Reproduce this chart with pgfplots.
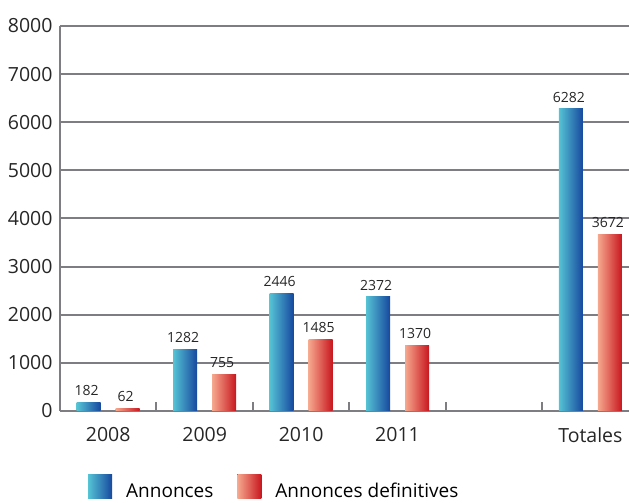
\documentclass[border=0pt]{standalone}
\usepackage{pgfplots}
\pgfplotsset{compat=1.18}
\usepackage{fontspec}
\setmainfont{Open Sans}
\definecolor{bluL}{RGB}{85,195,212}
\definecolor{bluR}{RGB}{22,72,158}
\definecolor{redL}{RGB}{246,168,142}
\definecolor{redR}{RGB}{200,22,30}
\definecolor{gridc}{RGB}{125,125,130}
\begin{document}
\begin{tikzpicture}[x=1pt,y=1pt]
\path[use as bounding box] (0,0) rectangle (629,503);
\begin{axis}[
  at={(60pt,92pt)}, anchor=south west,
  scale only axis, width=569pt, height=385pt,
  xmin=-0.5, xmax=5.4, ymin=0, ymax=8000,
  axis lines*=left,
  axis line style={draw=gridc, line width=2pt},
  ybar, bar width=24pt,
  xtick={0,1,2,3,5},
  xticklabels={2008,2009,2010,2011,Totales},
  minor xtick={0.5,1.5,2.5,3.5,4.5},
  ytick={0,1000,...,8000},
  major tick length=0pt,
  minor tick length=9pt,
  tick align=inside,
  minor tick style={draw=gridc, line width=2pt},
  ymajorgrids,
  major grid style={draw=gridc, line width=2pt},
  tick label style={font=\fontsize{19.5}{21}\selectfont, text=black!85},
  yticklabel style={xshift=-4pt},
  xticklabel style={yshift=-13pt},
  /pgf/number format/assume math mode=true,
  /pgf/number format/1000 sep={},
  scaled y ticks=false,
  nodes near coords,
  every node near coord/.append style={font=\fontsize{14}{16}\selectfont, text=black!85, yshift=3pt, xshift=-2pt},
  legend columns=2,
  legend style={draw=none, fill=none, at={(rel axis cs:0.0492,-0.164)}, anchor=north west,
    inner sep=0pt, font=\fontsize{19}{21}\selectfont,
    /tikz/every odd column/.append style={column sep=12pt},
    /tikz/every even column/.append style={column sep=22pt}},
  legend cell align=left,
  legend image code/.code={\fill[#1] (0pt,-7pt) rectangle (24pt,17pt);},
  clip=false,
]
% Annonces
\addplot[draw=none, left color=bluL, right color=bluR, bar shift=-19.5pt]
  coordinates {(0,182)};
\addplot[draw=none, left color=bluL, right color=bluR, bar shift=-19.5pt, forget plot]
  coordinates {(1,1282)};
\addplot[draw=none, left color=bluL, right color=bluR, bar shift=-19.5pt, forget plot]
  coordinates {(2,2446)};
\addplot[draw=none, left color=bluL, right color=bluR, bar shift=-19.5pt, forget plot]
  coordinates {(3,2372)};
\addplot[draw=none, left color=bluL, right color=bluR, bar shift=-19.5pt, forget plot]
  coordinates {(5,6282)};
% Annonces definitives
\addplot[draw=none, left color=redL, right color=redR, bar shift=19.5pt]
  coordinates {(0,62)};
\addplot[draw=none, left color=redL, right color=redR, bar shift=19.5pt, forget plot]
  coordinates {(1,755)};
\addplot[draw=none, left color=redL, right color=redR, bar shift=19.5pt, forget plot]
  coordinates {(2,1485)};
\addplot[draw=none, left color=redL, right color=redR, bar shift=19.5pt, forget plot]
  coordinates {(3,1370)};
\addplot[draw=none, left color=redL, right color=redR, bar shift=19.5pt, forget plot]
  coordinates {(5,3672)};
\legend{Annonces, Annonces definitives}
\end{axis}
\end{tikzpicture}
\end{document}
